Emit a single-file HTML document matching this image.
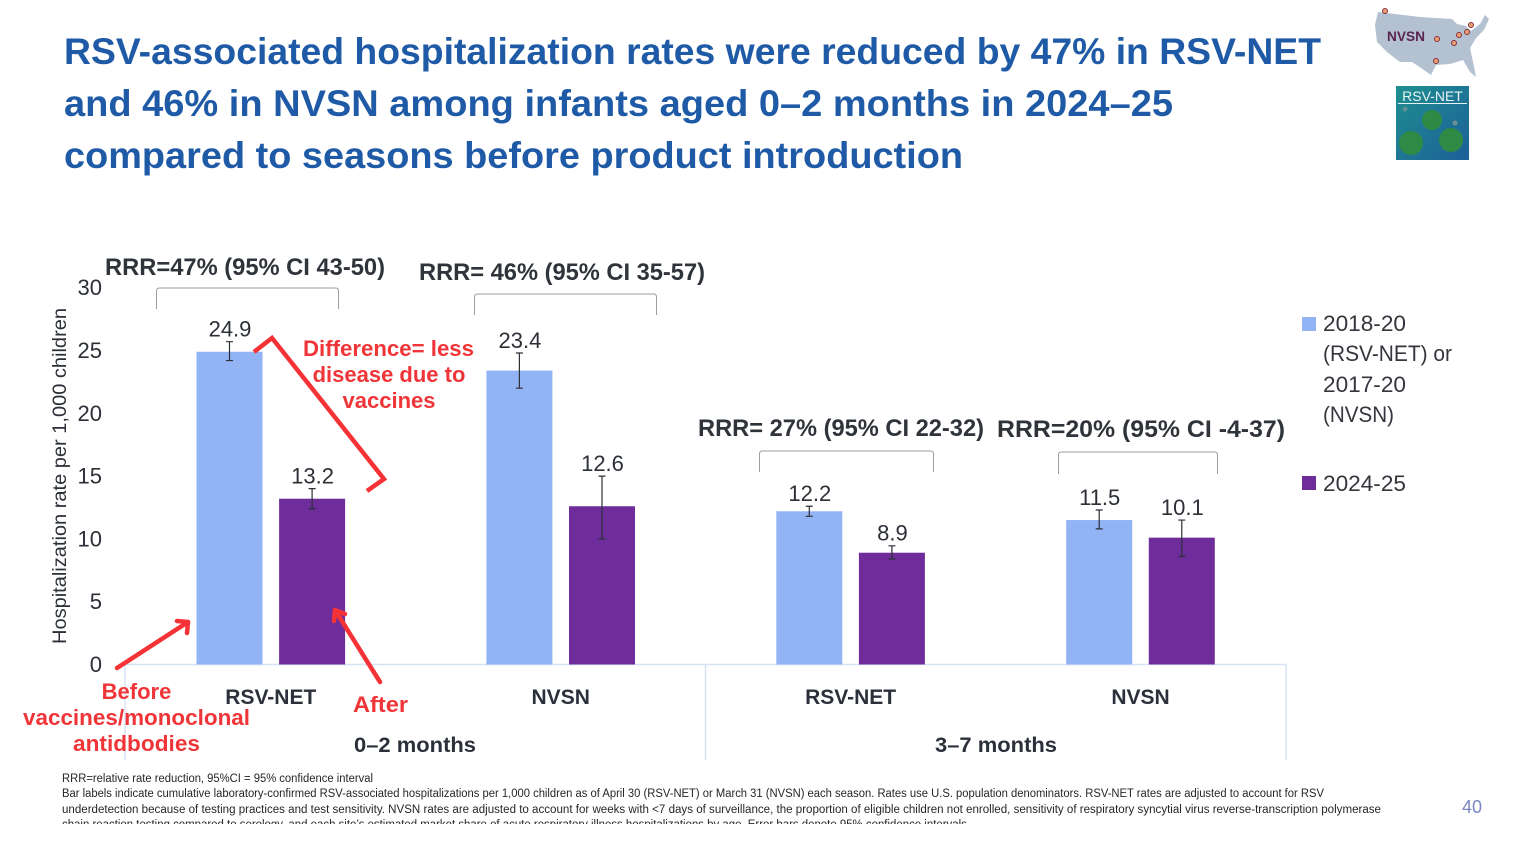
<!DOCTYPE html>
<html lang="en">
<head>
<meta charset="utf-8">
<title>RSV-associated hospitalization rates</title>
<style>
html,body{margin:0;padding:0;background:#fff;}
svg{display:block;}
text{font-family:"Liberation Sans","DejaVu Sans",sans-serif;}
.title{font-size:37px;font-weight:bold;fill:#1f5aa6;}
.tick{font-size:22px;fill:#2b2f36;text-anchor:end;}
.val{font-size:22px;fill:#2b2f36;text-anchor:middle;}
.rrr{font-size:24px;font-weight:bold;fill:#2f333a;}
.cat{font-size:21px;font-weight:bold;fill:#2b303a;text-anchor:middle;}
.note{font-size:22px;font-weight:bold;fill:#f03538;text-anchor:middle;}
.leg{font-size:22px;fill:#33363c;}
.foot{font-size:11.5px;fill:#262626;}
</style>
</head>
<body>
<svg id="chart" xmlns="http://www.w3.org/2000/svg" width="1526" height="860" viewBox="0 0 1526 860">
  <defs>
    <clipPath id="footClip"><rect x="0" y="760" width="1526" height="64"/></clipPath>
    <linearGradient id="logoBg" x1="0" y1="0" x2="1" y2="1"><stop offset="0" stop-color="#1f8f90"/><stop offset="1" stop-color="#1c5f98"/></linearGradient>
  </defs>
  <rect width="1526" height="860" fill="#ffffff"/>

  <g>
    <text class="title" x="64" y="64" textLength="1257" lengthAdjust="spacingAndGlyphs">RSV-associated hospitalization rates were reduced by 47% in RSV-NET</text>
    <text class="title" x="64" y="116" textLength="1109" lengthAdjust="spacingAndGlyphs">and 46% in NVSN among infants aged 0–2 months in 2024–25</text>
    <text class="title" x="64" y="168" textLength="899" lengthAdjust="spacingAndGlyphs">compared to seasons before product introduction</text>
  </g>

  <g>
    <path d="M1378 12 L1420 17 L1452 19 L1457 24 L1466 26 L1471 31 L1480 24 L1485 15 L1489 19 L1484 30 L1476 38 L1470 48 L1473 62 L1476 77 L1470 72 L1463 60 L1450 64 L1436 65 L1431 75 L1424 70 L1412 62 L1400 62 L1387 52 L1377 42 L1375 25 Z" fill="#b3c1d0"/>
    <text x="1387" y="41" font-size="14" font-weight="bold" fill="#5a2350" textLength="38" lengthAdjust="spacingAndGlyphs">NVSN</text>
    <circle cx="1385" cy="11" r="2.5" fill="#e8a070" stroke="#8a3040"/>
    <circle cx="1437" cy="39" r="2.5" fill="#e8a070" stroke="#8a3040"/>
    <circle cx="1436" cy="61" r="2.5" fill="#e8a070" stroke="#8a3040"/>
    <circle cx="1454" cy="43" r="2.5" fill="#e8a070" stroke="#8a3040"/>
    <circle cx="1459" cy="35" r="2.5" fill="#e8a070" stroke="#8a3040"/>
    <circle cx="1467" cy="32" r="2.5" fill="#e8a070" stroke="#8a3040"/>
    <circle cx="1471" cy="25" r="2.5" fill="#e8a070" stroke="#8a3040"/>
  </g>
  <g>
    <rect x="1396" y="86" width="73" height="74" fill="url(#logoBg)"/>
    <text x="1432.5" y="101" font-size="14" fill="#e8f4f4" text-anchor="middle">RSV-NET</text>
    <rect x="1398" y="103" width="69" height="1" fill="#e8f4f4"/>
    <circle cx="1432" cy="120" r="10" fill="#2f8a45"/>
    <circle cx="1411" cy="143" r="12" fill="#2f8a45"/>
    <circle cx="1451" cy="140" r="12" fill="#2f8a45"/>
    <circle cx="1405" cy="109" r="2.5" fill="#5f8f95"/>
    <circle cx="1455" cy="123" r="2.5" fill="#6f8f95"/>
  </g>

  <g>
    <text transform="translate(66,644) rotate(-90)" font-size="19" fill="#2b2f36" textLength="336" lengthAdjust="spacingAndGlyphs">Hospitalization rate per 1,000 children</text>
  </g>

  <g id="axis-lines" stroke="#d6e2f5" stroke-width="1.5" fill="none">
    <path d="M125 664.5H1286"/>
    <path d="M125 664.5V760"/>
    <path d="M705.5 664.5V760"/>
    <path d="M1286 664.5V760"/>
  </g>

  <g id="y-ticks"></g>
  <g id="bars"></g>
  <g id="errors"></g>
  <g id="values"></g>
  <g id="cats"></g>

  <g>
    <text class="cat" x="415" y="752" textLength="122" lengthAdjust="spacingAndGlyphs">0–2 months</text>
    <text class="cat" x="996" y="752" textLength="122" lengthAdjust="spacingAndGlyphs">3–7 months</text>
  </g>

  <g>
    <text class="rrr" x="105" y="275" textLength="280" lengthAdjust="spacingAndGlyphs">RRR=47% (95% CI 43-50)</text>
    <text class="rrr" x="419" y="280" textLength="286" lengthAdjust="spacingAndGlyphs">RRR= 46% (95% CI 35-57)</text>
    <text class="rrr" x="698" y="436" textLength="286" lengthAdjust="spacingAndGlyphs">RRR= 27% (95% CI 22-32)</text>
    <text class="rrr" x="997" y="437" textLength="288" lengthAdjust="spacingAndGlyphs">RRR=20% (95% CI -4-37)</text>
  </g>
  <g fill="none" stroke="#9a9da3" stroke-width="1">
    <path d="M156.5 309V291Q156.5 288 159.5 288H335.5Q338.5 288 338.5 291V309"/>
    <path d="M474.5 315V297Q474.5 294 477.5 294H653.5Q656.5 294 656.5 297V315"/>
    <path d="M759.5 472V454Q759.5 451 762.5 451H930.5Q933.5 451 933.5 454V472"/>
    <path d="M1058.5 474V455Q1058.5 452 1061.5 452H1214.5Q1217.5 452 1217.5 455V474"/>
  </g>

  <g fill="none" stroke="#f53336" stroke-width="4.5" stroke-linejoin="miter">
    <path d="M254 352L272 338L384 479L367 491"/>
  </g>
  <g>
    <text class="note" x="388.5" y="356" textLength="171" lengthAdjust="spacingAndGlyphs">Difference= less</text>
    <text class="note" x="389" y="382">disease due to</text>
    <text class="note" x="389" y="408">vaccines</text>
    <text class="note" x="136.5" y="699">Before</text>
    <text class="note" x="136.5" y="725" textLength="227" lengthAdjust="spacingAndGlyphs">vaccines/monoclonal</text>
    <text class="note" x="136.5" y="751" textLength="127" lengthAdjust="spacingAndGlyphs">antidbodies</text>
    <text class="note" x="380.5" y="712" textLength="55" lengthAdjust="spacingAndGlyphs">After</text>
  </g>
  <g fill="none" stroke="#f53336" stroke-width="4.5" stroke-linecap="round" stroke-linejoin="round">
    <path d="M117 668L188 622"/>
    <path d="M177 621L188 622L187 633"/>
    <path d="M380 682L335 610"/>
    <path d="M334 621L335 610L345 614"/>
  </g>

  <g>
    <rect x="1302" y="317" width="14" height="14" fill="#92b4f4"/>
    <text class="leg" x="1323" y="331" textLength="83" lengthAdjust="spacingAndGlyphs">2018-20</text>
    <text class="leg" x="1323" y="361" textLength="129" lengthAdjust="spacingAndGlyphs">(RSV-NET) or</text>
    <text class="leg" x="1323" y="392" textLength="83" lengthAdjust="spacingAndGlyphs">2017-20</text>
    <text class="leg" x="1323" y="422" textLength="71" lengthAdjust="spacingAndGlyphs">(NVSN)</text>
    <rect x="1302" y="476" width="14" height="14" fill="#6f2d9b"/>
    <text class="leg" x="1323" y="491" textLength="83" lengthAdjust="spacingAndGlyphs">2024-25</text>
  </g>

  <g clip-path="url(#footClip)">
    <text class="foot" x="62" y="782" textLength="311" lengthAdjust="spacingAndGlyphs">RRR=relative rate reduction, 95%CI = 95% confidence interval</text>
    <text class="foot" x="62" y="797" textLength="1262" lengthAdjust="spacingAndGlyphs">Bar labels indicate cumulative laboratory-confirmed RSV-associated hospitalizations per 1,000 children as of April 30 (RSV-NET) or March 31 (NVSN) each season. Rates use U.S. population denominators. RSV-NET rates are adjusted to account for RSV</text>
    <text class="foot" x="62" y="813" textLength="1319" lengthAdjust="spacingAndGlyphs">underdetection because of testing practices and test sensitivity. NVSN rates are adjusted to account for weeks with &lt;7 days of surveillance, the proportion of eligible children not enrolled, sensitivity of respiratory syncytial virus reverse-transcription polymerase</text>
    <text class="foot" x="62" y="828" textLength="908" lengthAdjust="spacingAndGlyphs">chain reaction testing compared to serology, and each site’s estimated market share of acute respiratory illness hospitalizations by age. Error bars denote 95% confidence intervals.</text>
  </g>
  <text x="1472" y="813" font-size="18" fill="#7a86c4" text-anchor="middle">40</text>
</svg>
<script>
const categories = ['RSV-NET', 'NVSN', 'RSV-NET', 'NVSN'];
const yTicks = [0, 5, 10, 15, 20, 25, 30];
const baselineRates = [24.9, 23.4, 12.2, 11.5];
const currentRates = [13.2, 12.6, 8.9, 10.1];
const baselineLow = [24.2, 22.0, 11.8, 10.8];
const baselineHigh = [25.7, 24.8, 12.6, 12.3];
const currentLow = [12.4, 10.0, 8.4, 8.6];
const currentHigh = [14.0, 15.0, 9.45, 11.5];

const NS = 'http://www.w3.org/2000/svg';
const yScale = v => 664.5 - v * 12.56;
const groupCenter = i => 270.8 + i * 289.9;
const BAR_W = 66;
const BAR_OFF = 41.3;

function make(tag, parent, attrs, txt) {
  const el = document.createElementNS(NS, tag);
  for (const k in attrs) el.setAttribute(k, attrs[k]);
  if (txt !== undefined) el.textContent = txt;
  parent.appendChild(el);
  return el;
}

const tickGroup = document.getElementById('y-ticks');


yTicks.forEach(t => {
  const el = make('text', tickGroup, {class: 'tick', x: 102, y: yScale(t) + 7.5}, String(t));
  
  
});

const barGroup = document.getElementById('bars');


const errGroup = document.getElementById('errors');


const valGroup = document.getElementById('values');


const catGroup = document.getElementById('cats');



function drawSeries(values, low, high, offset, color) {
  values.forEach((v, i) => {
    const cx = groupCenter(i) + offset;
    const bar = make('rect', barGroup, {x: cx - BAR_W / 2, y: yScale(v), width: BAR_W, height: yScale(0) - yScale(v), fill: color});
    
    
    const yl = yScale(low[i]);
    const yh = yScale(high[i]);
    const err = make('path', errGroup, {d: `M${cx} ${yh}V${yl}M${cx - 3.5} ${yh}H${cx + 3.5}M${cx - 3.5} ${yl}H${cx + 3.5}`, stroke: '#2b2f36', 'stroke-width': 1.2, fill: 'none'});
    
    
    const label = make('text', valGroup, {class: 'val', x: cx + 0.5, y: yScale(Math.max(v, high[i] - 0.3)) - 9}, v.toFixed(1));
    
    
  });
}
drawSeries(baselineRates, baselineLow, baselineHigh, -BAR_OFF, '#92b4f4');
drawSeries(currentRates, currentLow, currentHigh, BAR_OFF, '#6f2d9b');

categories.forEach((c, i) => {
  const el = make('text', catGroup, {class: 'cat', x: groupCenter(i), y: 704}, c);
  
  
});
</script>
</body>
</html>
